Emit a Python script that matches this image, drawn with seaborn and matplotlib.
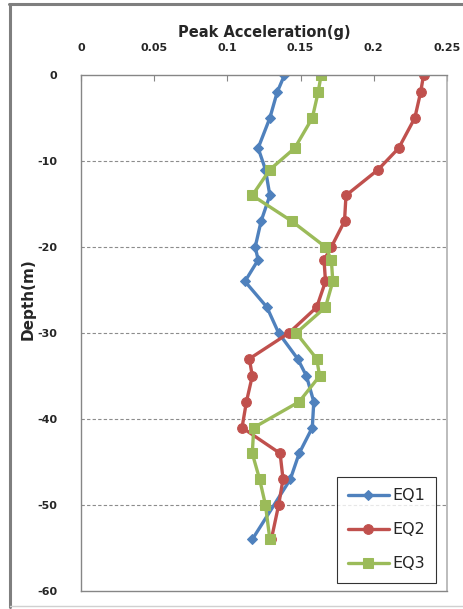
import matplotlib
matplotlib.use("Agg")
import matplotlib.pyplot as plt
import seaborn as sns
from matplotlib.lines import Line2D

# depth points (m)
depth = [0, -2, -5, -8.5, -11, -14, -17, -20, -21.5, -24, -27,
         -30, -33, -35, -38, -41, -44, -47, -50, -54]

# peak acceleration (g) per record
eq1 = [0.139, 0.134, 0.129, 0.121, 0.126, 0.129, 0.123, 0.119, 0.121, 0.112, 0.127,
       0.135, 0.148, 0.154, 0.159, 0.158, 0.149, 0.143, None, 0.117]
eq2 = [0.234, 0.232, 0.228, 0.217, 0.203, 0.181, 0.180, 0.171, 0.166, 0.167, 0.161,
       0.142, 0.115, 0.117, 0.113, 0.110, 0.136, 0.138, 0.135, 0.130]
eq3 = [0.164, 0.162, 0.158, 0.146, 0.129, 0.117, 0.144, 0.167, 0.171, 0.172, 0.167,
       0.147, 0.161, 0.163, 0.149, 0.118, 0.117, 0.122, 0.126, 0.129]

series = {"EQ1": eq1, "EQ2": eq2, "EQ3": eq3}
colors = {"EQ1": "#4F81BD", "EQ2": "#C0504D", "EQ3": "#9BBB59"}
markers = {"EQ1": "D", "EQ2": "o", "EQ3": "s"}
msizes = {"EQ1": 5.5, "EQ2": 7, "EQ3": 6.5}

xticks = [0, 0.05, 0.1, 0.15, 0.2, 0.25]
xtick_labels = ["0", "0.05", "0.1", "0.15", "0.2", "0.25"]
yticks = [0, -10, -20, -30, -40, -50, -60]

sns.set_style("white")
plt.rcParams["font.family"] = ["DejaVu Sans"]
plt.rcParams["axes.unicode_minus"] = False

fig = plt.figure(figsize=(4.63, 6.09), dpi=100)
ax = fig.add_axes([81 / 463, 1 - 591 / 609, 366 / 463, 516 / 609])

for name, vals in series.items():
    xs = [v for v in vals if v is not None]
    ys = [d for d, v in zip(depth, vals) if v is not None]
    sns.lineplot(x=xs, y=ys, sort=False, estimator=None, ax=ax,
                 color=colors[name], linewidth=2.4, marker=markers[name],
                 markersize=msizes[name], markeredgecolor=colors[name], label=name)

ax.set_xlim(0, 0.25)
ax.set_ylim(-60, 0)
ax.xaxis.tick_top()
ax.xaxis.set_label_position("top")
ax.set_xticks(xticks)
ax.set_xticklabels(xtick_labels)
ax.set_yticks(yticks)
ax.set_yticklabels([str(t) for t in yticks])
ax.tick_params(axis="x", direction="in", length=4, color="#868686", pad=16,
               labelsize=8)
ax.tick_params(axis="y", length=0, pad=17, labelsize=8)
for lab in ax.get_xticklabels() + ax.get_yticklabels():
    lab.set_fontweight("bold")

ax.set_xlabel("Peak Acceleration(g)", fontsize=10.5, fontweight="bold", labelpad=4)
ax.set_ylabel("Depth(m)", fontsize=11, fontweight="bold")
ax.yaxis.set_label_coords(-0.125, 0.566)

# dashed horizontal gridlines
for t in [-10, -20, -30, -40, -50]:
    ax.axhline(t, color="#8c8c8c", linestyle=(0, (3, 2)), linewidth=0.8, zorder=0)

for side in ["left", "top", "bottom"]:
    ax.spines[side].set_color("#868686")
    ax.spines[side].set_linewidth(1)
ax.spines["right"].set_color("#b0b0b0")
ax.spines["right"].set_linestyle((0, (1, 1)))
ax.spines["right"].set_linewidth(1.2)

leg = ax.legend(loc="lower right", bbox_to_anchor=(0.98, 0.01), frameon=True,
                fancybox=False, edgecolor="black", fontsize=11.5,
                labelspacing=1.2, handlelength=2.6, handletextpad=0.2,
                borderpad=0.7, borderaxespad=0.2)
leg.get_frame().set_linewidth(0.8)

# outer chart frame
fig.add_artist(Line2D([10 / 463, 10 / 463], [1 - 4 / 609, 1 - 607 / 609],
                      transform=fig.transFigure, color="#7f7f7f", linewidth=2.2))
fig.add_artist(Line2D([9 / 463, 1], [1 - 4 / 609, 1 - 4 / 609],
                      transform=fig.transFigure, color="#7f7f7f", linewidth=2.2))
fig.add_artist(Line2D([10 / 463, 1], [1 - 606 / 609, 1 - 606 / 609],
                      transform=fig.transFigure, color="#d0d0d0", linewidth=1))

fig.savefig("out.png", dpi=100)
plt.close(fig)
